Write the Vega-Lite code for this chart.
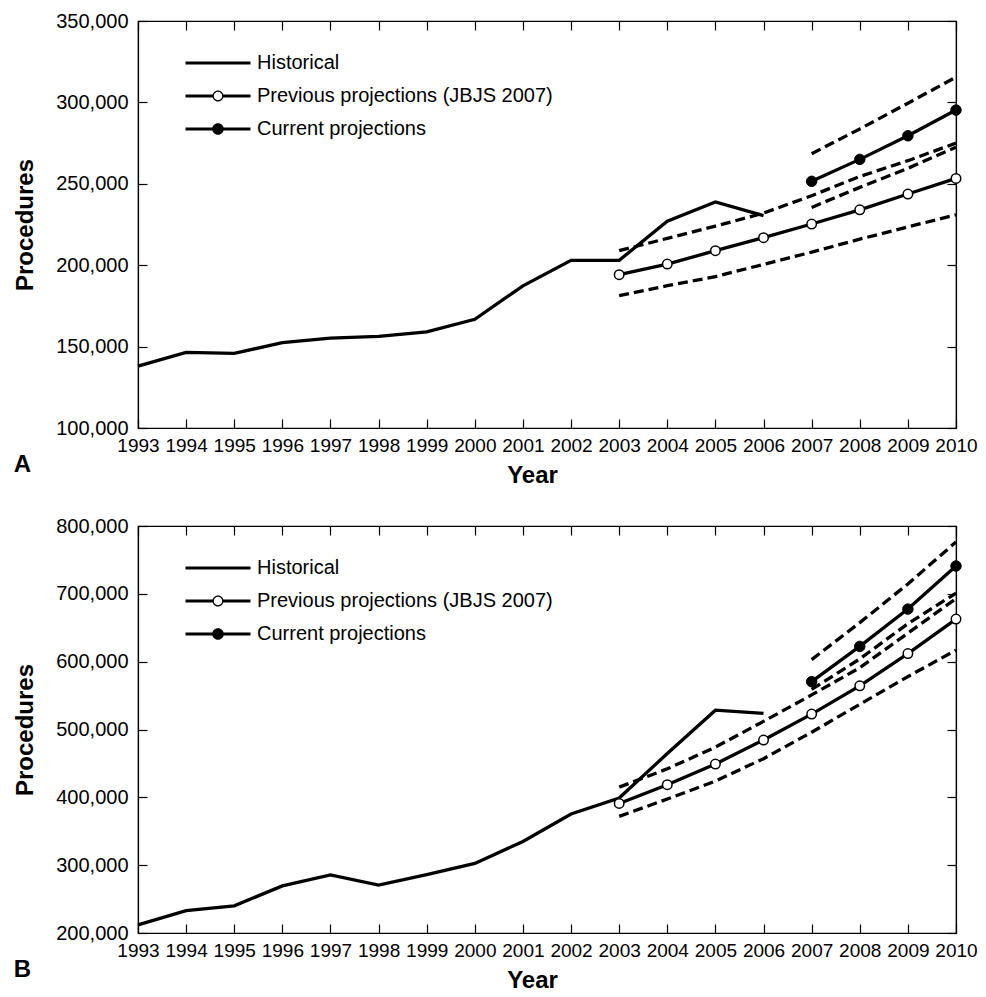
{
  "$schema": "https://vega.github.io/schema/vega-lite/v6.json",
  "padding": {"left": 13, "top": 10, "right": 5, "bottom": 5},
  "config": {
    "font": "Liberation Sans",
    "view": {"stroke": "black", "strokeWidth": 1.2},
    "axis": {
      "grid": false, "domain": true, "domainColor": "black", "domainWidth": 1.2,
      "tickColor": "black", "tickWidth": 1.2, "tickSize": -9,
      "labelColor": "black", "labelFlush": false, "labelOverlap": false,
      "labelFont": "Liberation Sans",
      "titleColor": "black", "titleFont": "Liberation Sans", "titleFontWeight": "bold", "titleFontSize": 24
    },
    "legend": {
      "orient": "none", "title": null, "padding": 0,
      "symbolSize": 400, "symbolStrokeWidth": 0, "symbolStrokeColor": "transparent", "symbolFillColor": "black",
      "labelFontSize": 20, "labelColor": "black", "labelFont": "Liberation Sans", "labelLimit": 600,
      "labelOffset": 29, "rowPadding": 13
    },
    "title": {"font": "Liberation Sans"}
  },
  "resolve": {"scale": {"y": "independent", "shape": "independent"}, "legend": {"shape": "independent"}},
  "spacing": 27,
  "datasets": {
    "d": [
      {"panel": "A", "series": "Historical", "year": 1993, "value": 138000},
      {"panel": "A", "series": "Historical", "year": 1994, "value": 146500},
      {"panel": "A", "series": "Historical", "year": 1995, "value": 145800},
      {"panel": "A", "series": "Historical", "year": 1996, "value": 152500},
      {"panel": "A", "series": "Historical", "year": 1997, "value": 155200},
      {"panel": "A", "series": "Historical", "year": 1998, "value": 156300},
      {"panel": "A", "series": "Historical", "year": 1999, "value": 159000},
      {"panel": "A", "series": "Historical", "year": 2000, "value": 166800},
      {"panel": "A", "series": "Historical", "year": 2001, "value": 187300},
      {"panel": "A", "series": "Historical", "year": 2002, "value": 203000},
      {"panel": "A", "series": "Historical", "year": 2003, "value": 203000},
      {"panel": "A", "series": "Historical", "year": 2004, "value": 227000},
      {"panel": "A", "series": "Historical", "year": 2005, "value": 238800},
      {"panel": "A", "series": "Historical", "year": 2006, "value": 230400},
      {"panel": "A", "series": "Previous projections (JBJS 2007)", "year": 2003, "value": 194200},
      {"panel": "A", "series": "Previous projections (JBJS 2007)", "year": 2004, "value": 200700},
      {"panel": "A", "series": "Previous projections (JBJS 2007)", "year": 2005, "value": 208900},
      {"panel": "A", "series": "Previous projections (JBJS 2007)", "year": 2006, "value": 216900},
      {"panel": "A", "series": "Previous projections (JBJS 2007)", "year": 2007, "value": 225300},
      {"panel": "A", "series": "Previous projections (JBJS 2007)", "year": 2008, "value": 234000},
      {"panel": "A", "series": "Previous projections (JBJS 2007)", "year": 2009, "value": 243700},
      {"panel": "A", "series": "Previous projections (JBJS 2007)", "year": 2010, "value": 253300},
      {"panel": "A", "series": "Previous lower", "year": 2003, "value": 181300},
      {"panel": "A", "series": "Previous lower", "year": 2004, "value": 187400},
      {"panel": "A", "series": "Previous lower", "year": 2005, "value": 193000},
      {"panel": "A", "series": "Previous lower", "year": 2006, "value": 200500},
      {"panel": "A", "series": "Previous lower", "year": 2007, "value": 208000},
      {"panel": "A", "series": "Previous lower", "year": 2008, "value": 216000},
      {"panel": "A", "series": "Previous lower", "year": 2009, "value": 223500},
      {"panel": "A", "series": "Previous lower", "year": 2010, "value": 231000},
      {"panel": "A", "series": "Previous upper", "year": 2003, "value": 208900},
      {"panel": "A", "series": "Previous upper", "year": 2004, "value": 216500},
      {"panel": "A", "series": "Previous upper", "year": 2005, "value": 224000},
      {"panel": "A", "series": "Previous upper", "year": 2006, "value": 232000},
      {"panel": "A", "series": "Previous upper", "year": 2007, "value": 242700},
      {"panel": "A", "series": "Previous upper", "year": 2008, "value": 254500},
      {"panel": "A", "series": "Previous upper", "year": 2009, "value": 264200},
      {"panel": "A", "series": "Previous upper", "year": 2010, "value": 275000},
      {"panel": "A", "series": "Current projections", "year": 2007, "value": 251500},
      {"panel": "A", "series": "Current projections", "year": 2008, "value": 265000},
      {"panel": "A", "series": "Current projections", "year": 2009, "value": 279500},
      {"panel": "A", "series": "Current projections", "year": 2010, "value": 295300},
      {"panel": "A", "series": "Current lower", "year": 2007, "value": 235500},
      {"panel": "A", "series": "Current lower", "year": 2008, "value": 247800},
      {"panel": "A", "series": "Current lower", "year": 2009, "value": 259500},
      {"panel": "A", "series": "Current lower", "year": 2010, "value": 272500},
      {"panel": "A", "series": "Current upper", "year": 2007, "value": 268500},
      {"panel": "A", "series": "Current upper", "year": 2008, "value": 283700},
      {"panel": "A", "series": "Current upper", "year": 2009, "value": 299500},
      {"panel": "A", "series": "Current upper", "year": 2010, "value": 315500},
      {"panel": "B", "series": "Historical", "year": 1993, "value": 212000},
      {"panel": "B", "series": "Historical", "year": 1994, "value": 233000},
      {"panel": "B", "series": "Historical", "year": 1995, "value": 240000},
      {"panel": "B", "series": "Historical", "year": 1996, "value": 269500},
      {"panel": "B", "series": "Historical", "year": 1997, "value": 285500},
      {"panel": "B", "series": "Historical", "year": 1998, "value": 270500},
      {"panel": "B", "series": "Historical", "year": 1999, "value": 286000},
      {"panel": "B", "series": "Historical", "year": 2000, "value": 302500},
      {"panel": "B", "series": "Historical", "year": 2001, "value": 335000},
      {"panel": "B", "series": "Historical", "year": 2002, "value": 375500},
      {"panel": "B", "series": "Historical", "year": 2003, "value": 399000},
      {"panel": "B", "series": "Historical", "year": 2004, "value": 464500},
      {"panel": "B", "series": "Historical", "year": 2005, "value": 528500},
      {"panel": "B", "series": "Historical", "year": 2006, "value": 523800},
      {"panel": "B", "series": "Previous projections (JBJS 2007)", "year": 2003, "value": 391000},
      {"panel": "B", "series": "Previous projections (JBJS 2007)", "year": 2004, "value": 418600},
      {"panel": "B", "series": "Previous projections (JBJS 2007)", "year": 2005, "value": 449100},
      {"panel": "B", "series": "Previous projections (JBJS 2007)", "year": 2006, "value": 484500},
      {"panel": "B", "series": "Previous projections (JBJS 2007)", "year": 2007, "value": 522700},
      {"panel": "B", "series": "Previous projections (JBJS 2007)", "year": 2008, "value": 564400},
      {"panel": "B", "series": "Previous projections (JBJS 2007)", "year": 2009, "value": 612000},
      {"panel": "B", "series": "Previous projections (JBJS 2007)", "year": 2010, "value": 662800},
      {"panel": "B", "series": "Previous lower", "year": 2003, "value": 372000},
      {"panel": "B", "series": "Previous lower", "year": 2004, "value": 397500},
      {"panel": "B", "series": "Previous lower", "year": 2005, "value": 424000},
      {"panel": "B", "series": "Previous lower", "year": 2006, "value": 457000},
      {"panel": "B", "series": "Previous lower", "year": 2007, "value": 496000},
      {"panel": "B", "series": "Previous lower", "year": 2008, "value": 537000},
      {"panel": "B", "series": "Previous lower", "year": 2009, "value": 578000},
      {"panel": "B", "series": "Previous lower", "year": 2010, "value": 617000},
      {"panel": "B", "series": "Previous upper", "year": 2003, "value": 415000},
      {"panel": "B", "series": "Previous upper", "year": 2004, "value": 442000},
      {"panel": "B", "series": "Previous upper", "year": 2005, "value": 474000},
      {"panel": "B", "series": "Previous upper", "year": 2006, "value": 512000},
      {"panel": "B", "series": "Previous upper", "year": 2007, "value": 551000},
      {"panel": "B", "series": "Previous upper", "year": 2008, "value": 591000},
      {"panel": "B", "series": "Previous upper", "year": 2009, "value": 642000},
      {"panel": "B", "series": "Previous upper", "year": 2010, "value": 693000},
      {"panel": "B", "series": "Current projections", "year": 2007, "value": 570500},
      {"panel": "B", "series": "Current projections", "year": 2008, "value": 622500},
      {"panel": "B", "series": "Current projections", "year": 2009, "value": 677500},
      {"panel": "B", "series": "Current projections", "year": 2010, "value": 741000},
      {"panel": "B", "series": "Current lower", "year": 2007, "value": 559000},
      {"panel": "B", "series": "Current lower", "year": 2008, "value": 604000},
      {"panel": "B", "series": "Current lower", "year": 2009, "value": 656000},
      {"panel": "B", "series": "Current lower", "year": 2010, "value": 701000},
      {"panel": "B", "series": "Current upper", "year": 2007, "value": 603000},
      {"panel": "B", "series": "Current upper", "year": 2008, "value": 657500},
      {"panel": "B", "series": "Current upper", "year": 2009, "value": 714500},
      {"panel": "B", "series": "Current upper", "year": 2010, "value": 776500}
    ]
  },
  "vconcat": [
    {
      "width": 818, "height": 407,
      "data": {"name": "d"},
      "transform": [{"filter": "datum.panel === 'A'"}],
      "title": {"text": "A", "orient": "bottom", "anchor": "start", "frame": "bounds", "fontSize": 24, "fontWeight": "bold", "color": "black", "offset": 0, "dy": -34, "dx": 0},
      "resolve": {"axis": {"x": "independent", "y": "independent"}},
      "layer": [
        {
          "transform": [{"filter": "datum.series === 'Historical'"}],
          "mark": {"type": "line", "stroke": "black", "strokeWidth": 3.3},
          "encoding": {
            "x": {"field": "year", "type": "quantitative", "scale": {"domain": [1993, 2010], "nice": false, "zero": false},
                  "axis": {"orient": "bottom", "tickCount": 17, "format": "d", "labelFontSize": 19, "labelPadding": 17, "title": "Year", "titleX": 394, "titlePadding": 8}},
            "y": {"field": "value", "type": "quantitative", "scale": {"domain": [100000, 350000], "nice": false, "zero": false},
                  "axis": {"orient": "left", "tickCount": 5, "format": ",d", "labelFontSize": 20, "labelPadding": 19, "title": "Procedures", "titlePadding": 18}}
          }
        },
        {
          "transform": [{"filter": "datum.series === 'Previous projections (JBJS 2007)' || datum.series === 'Current projections'"}],
          "mark": {"type": "line", "stroke": "black", "strokeWidth": 3.3},
          "encoding": {
            "detail": {"field": "series"},
            "x": {"field": "year", "type": "quantitative", "scale": {"domain": [1993, 2010], "nice": false, "zero": false},
                  "axis": {"orient": "top", "tickCount": 17, "labels": false, "title": null}},
            "y": {"field": "value", "type": "quantitative", "scale": {"domain": [100000, 350000], "nice": false, "zero": false},
                  "axis": {"orient": "right", "tickCount": 5, "labels": false, "title": null}}
          }
        },
        {
          "transform": [{"filter": "indexof(['Previous lower','Previous upper','Current lower','Current upper'], datum.series) >= 0"}],
          "mark": {"type": "line", "stroke": "black", "strokeWidth": 3.3, "strokeDash": [10, 5]},
          "encoding": {
            "detail": {"field": "series"},
            "x": {"field": "year", "type": "quantitative", "scale": {"domain": [1993, 2010], "nice": false, "zero": false}, "axis": null},
            "y": {"field": "value", "type": "quantitative", "scale": {"domain": [100000, 350000], "nice": false, "zero": false}, "axis": null}
          }
        },
        {
          "transform": [{"filter": "datum.series === 'Previous projections (JBJS 2007)'"}],
          "mark": {"type": "point", "shape": "circle", "filled": true, "fill": "white", "stroke": "black", "strokeWidth": 1.5, "size": 90, "opacity": 1},
          "encoding": {
            "x": {"field": "year", "type": "quantitative", "scale": {"domain": [1993, 2010], "nice": false, "zero": false}, "axis": null},
            "y": {"field": "value", "type": "quantitative", "scale": {"domain": [100000, 350000], "nice": false, "zero": false}, "axis": null}
          }
        },
        {
          "transform": [{"filter": "datum.series === 'Current projections'"}],
          "mark": {"type": "point", "shape": "circle", "filled": true, "fill": "black", "stroke": "black", "strokeWidth": 1, "size": 110, "opacity": 1},
          "encoding": {
            "x": {"field": "year", "type": "quantitative", "scale": {"domain": [1993, 2010], "nice": false, "zero": false}, "axis": null},
            "y": {"field": "value", "type": "quantitative", "scale": {"domain": [100000, 350000], "nice": false, "zero": false}, "axis": null}
          }
        },
        {
          "transform": [{"filter": "false"}],
          "mark": {"type": "point", "filled": true, "color": "black", "strokeWidth": 0, "opacity": 1},
          "encoding": {
            "x": {"field": "year", "type": "quantitative", "scale": {"domain": [1993, 2010], "nice": false, "zero": false}, "axis": null},
            "y": {"field": "value", "type": "quantitative", "scale": {"domain": [100000, 350000], "nice": false, "zero": false}, "axis": null},
            "shape": {"field": "series", "type": "nominal",
              "scale": {"domain": ["Historical", "Previous projections (JBJS 2007)", "Current projections"],
                        "range": ["M-3.25,-0.15L3.25,-0.15L3.25,0.15L-3.25,0.15Z",
                                  "M-3.25,-0.15L-0.5,-0.15L-0.5,0.15L-3.25,0.15Z M0.5,-0.15L3.25,-0.15L3.25,0.15L0.5,0.15Z M0.55,0A0.55,0.55,0,1,1,-0.55,0A0.55,0.55,0,1,1,0.55,0Z M0.42,0A0.42,0.42,0,1,0,-0.42,0A0.42,0.42,0,1,0,0.42,0Z",
                                  "M-3.25,-0.15L-0.5,-0.15L-0.5,0.15L-3.25,0.15Z M0.5,-0.15L3.25,-0.15L3.25,0.15L0.5,0.15Z M0.58,0A0.58,0.58,0,1,1,-0.58,0A0.58,0.58,0,1,1,0.58,0Z"]},
              "legend": {"legendX": 70, "legendY": 32}}
          }
        }
      ]
    },
    {
      "width": 818, "height": 407,
      "data": {"name": "d"},
      "transform": [{"filter": "datum.panel === 'B'"}],
      "title": {"text": "B", "orient": "bottom", "anchor": "start", "frame": "bounds", "fontSize": 24, "fontWeight": "bold", "color": "black", "offset": 0, "dy": -34, "dx": 0},
      "resolve": {"axis": {"x": "independent", "y": "independent"}},
      "layer": [
        {
          "transform": [{"filter": "datum.series === 'Historical'"}],
          "mark": {"type": "line", "stroke": "black", "strokeWidth": 3.3},
          "encoding": {
            "x": {"field": "year", "type": "quantitative", "scale": {"domain": [1993, 2010], "nice": false, "zero": false},
                  "axis": {"orient": "bottom", "tickCount": 17, "format": "d", "labelFontSize": 19, "labelPadding": 17, "title": "Year", "titleX": 394, "titlePadding": 8}},
            "y": {"field": "value", "type": "quantitative", "scale": {"domain": [200000, 800000], "nice": false, "zero": false},
                  "axis": {"orient": "left", "tickCount": 6, "format": ",d", "labelFontSize": 20, "labelPadding": 19, "title": "Procedures", "titlePadding": 18}}
          }
        },
        {
          "transform": [{"filter": "datum.series === 'Previous projections (JBJS 2007)' || datum.series === 'Current projections'"}],
          "mark": {"type": "line", "stroke": "black", "strokeWidth": 3.3},
          "encoding": {
            "detail": {"field": "series"},
            "x": {"field": "year", "type": "quantitative", "scale": {"domain": [1993, 2010], "nice": false, "zero": false},
                  "axis": {"orient": "top", "tickCount": 17, "labels": false, "title": null}},
            "y": {"field": "value", "type": "quantitative", "scale": {"domain": [200000, 800000], "nice": false, "zero": false},
                  "axis": {"orient": "right", "tickCount": 6, "labels": false, "title": null}}
          }
        },
        {
          "transform": [{"filter": "indexof(['Previous lower','Previous upper','Current lower','Current upper'], datum.series) >= 0"}],
          "mark": {"type": "line", "stroke": "black", "strokeWidth": 3.3, "strokeDash": [10, 5]},
          "encoding": {
            "detail": {"field": "series"},
            "x": {"field": "year", "type": "quantitative", "scale": {"domain": [1993, 2010], "nice": false, "zero": false}, "axis": null},
            "y": {"field": "value", "type": "quantitative", "scale": {"domain": [200000, 800000], "nice": false, "zero": false}, "axis": null}
          }
        },
        {
          "transform": [{"filter": "datum.series === 'Previous projections (JBJS 2007)'"}],
          "mark": {"type": "point", "shape": "circle", "filled": true, "fill": "white", "stroke": "black", "strokeWidth": 1.5, "size": 90, "opacity": 1},
          "encoding": {
            "x": {"field": "year", "type": "quantitative", "scale": {"domain": [1993, 2010], "nice": false, "zero": false}, "axis": null},
            "y": {"field": "value", "type": "quantitative", "scale": {"domain": [200000, 800000], "nice": false, "zero": false}, "axis": null}
          }
        },
        {
          "transform": [{"filter": "datum.series === 'Current projections'"}],
          "mark": {"type": "point", "shape": "circle", "filled": true, "fill": "black", "stroke": "black", "strokeWidth": 1, "size": 110, "opacity": 1},
          "encoding": {
            "x": {"field": "year", "type": "quantitative", "scale": {"domain": [1993, 2010], "nice": false, "zero": false}, "axis": null},
            "y": {"field": "value", "type": "quantitative", "scale": {"domain": [200000, 800000], "nice": false, "zero": false}, "axis": null}
          }
        },
        {
          "transform": [{"filter": "false"}],
          "mark": {"type": "point", "filled": true, "color": "black", "strokeWidth": 0, "opacity": 1},
          "encoding": {
            "x": {"field": "year", "type": "quantitative", "scale": {"domain": [1993, 2010], "nice": false, "zero": false}, "axis": null},
            "y": {"field": "value", "type": "quantitative", "scale": {"domain": [200000, 800000], "nice": false, "zero": false}, "axis": null},
            "shape": {"field": "series", "type": "nominal",
              "scale": {"domain": ["Historical", "Previous projections (JBJS 2007)", "Current projections"],
                        "range": ["M-3.25,-0.15L3.25,-0.15L3.25,0.15L-3.25,0.15Z",
                                  "M-3.25,-0.15L-0.5,-0.15L-0.5,0.15L-3.25,0.15Z M0.5,-0.15L3.25,-0.15L3.25,0.15L0.5,0.15Z M0.55,0A0.55,0.55,0,1,1,-0.55,0A0.55,0.55,0,1,1,0.55,0Z M0.42,0A0.42,0.42,0,1,0,-0.42,0A0.42,0.42,0,1,0,0.42,0Z",
                                  "M-3.25,-0.15L-0.5,-0.15L-0.5,0.15L-3.25,0.15Z M0.5,-0.15L3.25,-0.15L3.25,0.15L0.5,0.15Z M0.58,0A0.58,0.58,0,1,1,-0.58,0A0.58,0.58,0,1,1,0.58,0Z"]},
              "legend": {"legendX": 70, "legendY": 32}}
          }
        }
      ]
    }
  ]
}
